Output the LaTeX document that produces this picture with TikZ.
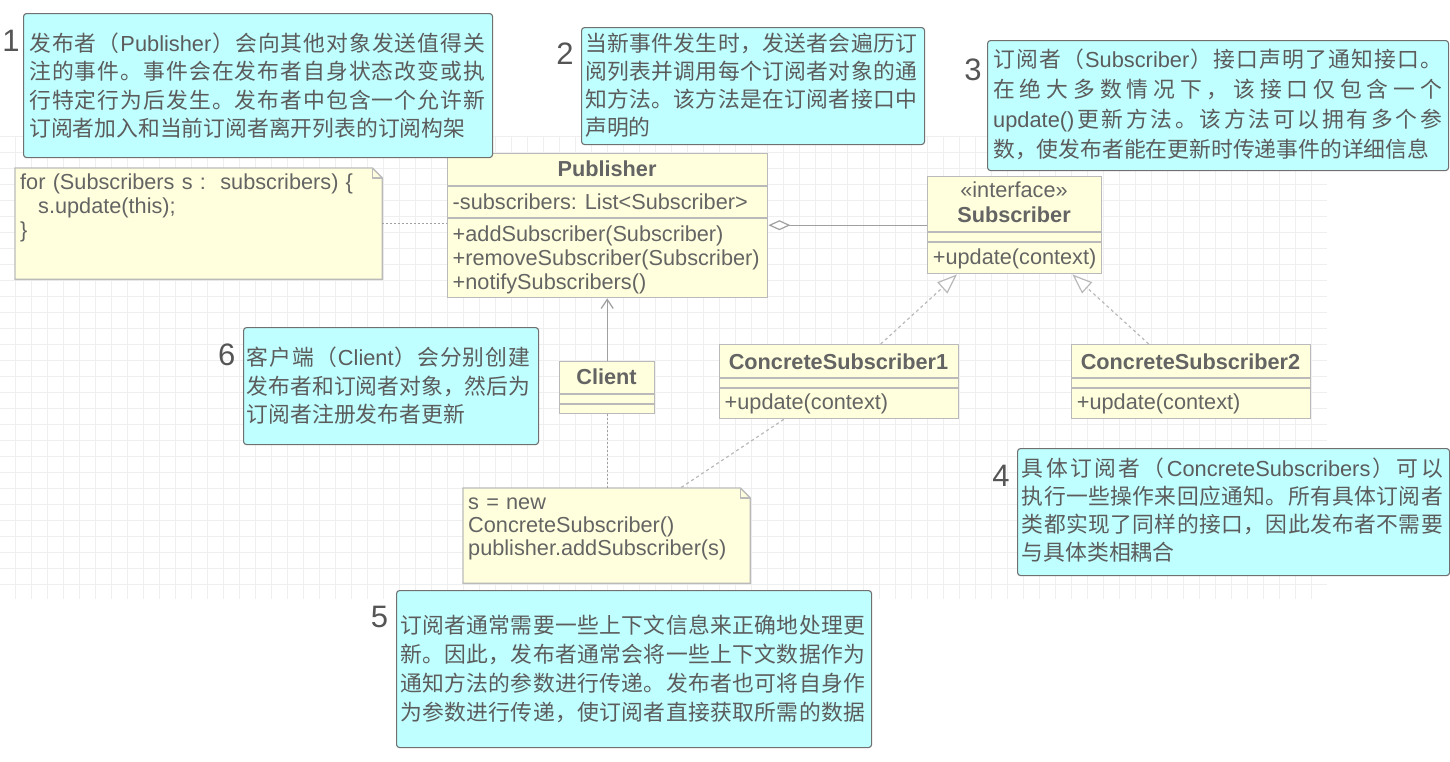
\documentclass[tikz,border=0pt]{standalone}
\usepackage{fontspec}
\setmainfont{Liberation Sans}
\newfontfamily\cjk{Noto Sans CJK SC}
\usetikzlibrary{arrows.meta,calc}
\definecolor{cyanfill}{RGB}{192,255,255}
\definecolor{cyanline}{RGB}{112,112,112}
\definecolor{umlfill}{RGB}{255,255,221}
\definecolor{umlline}{RGB}{186,186,186}
\definecolor{ctxt}{RGB}{92,92,92}
\definecolor{utxt}{RGB}{100,100,100}
\definecolor{ntxt}{RGB}{85,85,85}
\definecolor{gridc}{RGB}{239,239,239}
\definecolor{connc}{RGB}{160,160,160}
\definecolor{realc}{RGB}{185,185,185}
\def\spreadend{SPREADEND}
\def\spreadit#1#2\endsp{#1\spreadA#2\spreadend}
\def\spreadA#1{\ifx\spreadend#1\else\hskip0pt plus 1fil\relax{#1}\expandafter\spreadA\fi}
\newcommand\jl[2]{\makebox[#1][s]{\spreadit#2\endsp}}
\newcommand\engw[1]{{\normalfont #1}}
\begin{document}
\begin{tikzpicture}[x=1pt,y=-1pt,
  cbox/.style={draw=cyanline, fill=cyanfill, rounded corners=3pt, line width=1.1pt, inner sep=0pt, anchor=north west},
  ubox/.style={draw=umlline, fill=umlfill, line width=1.4pt, inner sep=0pt, anchor=north west},
  nbox/.style={draw=none, inner sep=0pt, anchor=north west},
  notepath/.style={draw=umlline, fill=umlfill, line width=1.4pt, line join=miter},
  udiv/.style={draw=umlline, line width=1.4pt},
  ctext/.style={text=ctxt, font=\cjk\fontsize{21.8}{#1}\selectfont, inner sep=0pt, anchor=base west, text width=490pt, align=left},
  utext/.style={text=utxt, font=\fontsize{21.7}{24}\selectfont, inner sep=0pt, anchor=base west},
  umulti/.style={text=utxt, font=\fontsize{21.7}{#1}\selectfont, inner sep=0pt, anchor=base west, text width=420pt, align=left},
  utitle/.style={text=utxt, font=\bfseries\fontsize{21.7}{24}\selectfont, inner sep=0pt, anchor=base},
  numtext/.style={text=ntxt, font=\fontsize{31}{31}\selectfont, inner sep=0pt, anchor=center},
  dotc/.style={draw=connc, line width=1.2pt, dash pattern=on 2pt off 2pt},
  dashc/.style={draw=realc, line width=1.2pt, dash pattern=on 3pt off 3pt},
  solidc/.style={draw=connc, line width=1.3pt},
  gridl/.style={draw=gridc, line width=1pt}
]
\fill[white] (0,0) rectangle (1450,761);
\useasboundingbox (0,0) rectangle (1450,761);
% grid
\foreach \k in {0,...,28} {\draw[gridl] (0,{136.7+16*\k}) -- (1327,{136.7+16*\k});}
\foreach \k in {0,...,81} {\draw[gridl] ({15.8+16*\k},136.7) -- ({15.8+16*\k},599);}

% UML boxes
\node[ubox, minimum width=320pt, minimum height=144pt] (pub) at (447,153) {};
\draw[udiv] ($(pub.north west)+(0,33)$) -- ($(pub.north east)+(0,33)$);
\draw[udiv] ($(pub.north west)+(0,65)$) -- ($(pub.north east)+(0,65)$);
\node[utitle] (pubt) at (607,176) {Publisher};
\node[utext] (puba) at (452.5,209) {-subscribers: List<Subscriber>};
\node[umulti=24] (pubm) at (452.5,241.7) {+addSubscriber(Subscriber)\\+removeSubscriber(Subscriber)\\+notifySubscribers()};

\node[ubox, minimum width=174pt, minimum height=97pt] (sub) at (927,176) {};
\draw[udiv] ($(sub.north west)+(0,56)$) -- ($(sub.north east)+(0,56)$);
\draw[udiv] ($(sub.north west)+(0,66)$) -- ($(sub.north east)+(0,66)$);
\node[utext, anchor=base] (subs) at (1014,197.5) {«interface»};
\node[utitle] (subt) at (1014,222.3) {Subscriber};
\node[utext] (subm) at (932.7,264) {+update(context)};

\node[ubox, minimum width=239pt, minimum height=74pt] (cs1) at (719,344) {};
\draw[udiv] ($(cs1.north west)+(0,34)$) -- ($(cs1.north east)+(0,34)$);
\draw[udiv] ($(cs1.north west)+(0,44)$) -- ($(cs1.north east)+(0,44)$);
\node[utitle] (cs1t) at (838.5,369) {ConcreteSubscriber1};
\node[utext] (cs1m) at (724.5,409.3) {+update(context)};

\node[ubox, minimum width=239pt, minimum height=74pt] (cs2) at (1071,344) {};
\draw[udiv] ($(cs2.north west)+(0,34)$) -- ($(cs2.north east)+(0,34)$);
\draw[udiv] ($(cs2.north west)+(0,44)$) -- ($(cs2.north east)+(0,44)$);
\node[utitle] (cs2t) at (1190.5,369) {ConcreteSubscriber2};
\node[utext] (cs2m) at (1076.7,409.3) {+update(context)};

\node[ubox, minimum width=95pt, minimum height=52pt] (cli) at (559,361) {};
\draw[udiv] ($(cli.north west)+(0,33)$) -- ($(cli.north east)+(0,33)$);
\draw[udiv] ($(cli.north west)+(0,43)$) -- ($(cli.north east)+(0,43)$);
\node[utitle] (clit) at (606.5,384) {Client};

% notes
\node[nbox, minimum width=367pt, minimum height=111pt] (ln) at (15,168) {};
\filldraw[notepath] (ln.north west) -- ($(ln.north east)+(-10,0)$) -- ($(ln.north east)+(0,10)$) -- (ln.south east) -- (ln.south west) -- cycle;
\draw[udiv] ($(ln.north east)+(-10,0)$) -- ($(ln.north east)+(-10,10)$) -- ($(ln.north east)+(0,10)$);
\node[umulti=24.2] (lnt) at (20,189.3) {for (Subscribers s :\ \ subscribers) \{\\\hspace*{18pt}s.update(this);\\\}};

\node[nbox, minimum width=287pt, minimum height=95pt] (cn) at (463,488) {};
\filldraw[notepath] (cn.north west) -- ($(cn.north east)+(-10,0)$) -- ($(cn.north east)+(0,10)$) -- (cn.south east) -- (cn.south west) -- cycle;
\draw[udiv] ($(cn.north east)+(-10,0)$) -- ($(cn.north east)+(-10,10)$) -- ($(cn.north east)+(0,10)$);
\node[umulti=23.3] (cnt) at (468,509.3) {s = new\\ConcreteSubscriber()\\publisher.addSubscriber(s)};

% connectors
\draw[dotc] (ln.east) -- (ln.east -| pub.west);
\draw[solidc, {Diamond[length=22pt,width=10pt,fill=white,line width=1.2pt]}-] (sub.west -| pub.east) -- (sub.west);
\draw[solidc, -{Straight Barb[length=9pt,width=12pt,line width=1.2pt]}] (cli.north) -- (cli.north |- pub.south);
\draw[dotc] (cli.south) -- (cli.south |- cn.north);
\draw[dashc] ($(cs1.south)+(-55.5,0)$) -- ($(cn.north east)+(-70,0)$);
\draw[dashc, -{Triangle[length=20pt,width=15pt,fill=white,line width=1.2pt]}] ($(cs1.north)+(41.5,0)$) -- ($(sub.south west)+(30,0)$);
\draw[dashc, -{Triangle[length=20pt,width=15pt,fill=white,line width=1.2pt]}] ($(cs2.north)+(-42.5,0)$) -- ($(sub.south east)+(-30,0)$);

% callout boxes
\node[cbox, minimum width=469pt, minimum height=144pt] (b1) at (23,13) {};
\node[ctext=28.35] (t1) at (29,51.6) {\jl{456pt}{发布者（{\engw{Publisher}}）会向其他对象发送值得关}\\\jl{456pt}{注的事件。事件会在发布者自身状态改变或执}\\\jl{456pt}{行特定行为后发生。发布者中包含一个允许新}\\订阅者加入和当前订阅者离开列表的订阅构架};
\node[numtext] (n1) at (11,40.8) {1};

\node[cbox, minimum width=343pt, minimum height=117pt] (b2) at (581,27) {};
\node[ctext=28] (t2) at (585,51.6) {\jl{332pt}{当新事件发生时，发送者会遍历订}\\\jl{332pt}{阅列表并调用每个订阅者对象的通}\\\jl{332pt}{知方法。该方法是在订阅者接口中}\\声明的};
\node[numtext] (n2) at (565,54) {2};

\node[cbox, minimum width=461pt, minimum height=130pt] (b3) at (987,40) {};
\node[ctext=30.2] (t3) at (993,67) {\jl{449pt}{订阅者（{\engw{Subscriber}}）接口声明了通知接口。}\\\jl{449pt}{在绝大多数情况下，该接口仅包含一个}\\\jl{449pt}{{\engw{update()}}更新方法。该方法可以拥有多个参}\\数，使发布者能在更新时传递事件的详细信息};
\node[numtext] (n3) at (973,70) {3};

\node[cbox, minimum width=432pt, minimum height=127pt] (b4) at (1017,448) {};
\node[ctext=27.8] (t4) at (1021.7,476.6) {\jl{421pt}{具体订阅者（{\engw{ConcreteSubscribers}}）可以}\\\jl{421pt}{执行一些操作来回应通知。所有具体订阅者}\\\jl{421pt}{类都实现了同样的接口，因此发布者不需要}\\与具体类相耦合};
\node[numtext] (n4) at (1001,476) {4};

\node[cbox, minimum width=475pt, minimum height=157pt] (b5) at (396,590) {};
\node[ctext=28.9] (t5) at (400,633.3) {\jl{465pt}{订阅者通常需要一些上下文信息来正确地处理更}\\\jl{465pt}{新。因此，发布者通常会将一些上下文数据作为}\\\jl{465pt}{通知方法的参数进行传递。发布者也可将自身作}\\\jl{465pt}{为参数进行传递，使订阅者直接获取所需的数据}};
\node[numtext] (n5) at (379.5,616.7) {5};

\node[cbox, minimum width=295pt, minimum height=117pt] (b6) at (243,327) {};
\node[ctext=28.5] (t6) at (246.7,365.6) {\jl{283.3pt}{客户端（{\engw{Client}}）会分别创建}\\\jl{283.3pt}{发布者和订阅者对象，然后为}\\订阅者注册发布者更新};
\node[numtext] (n6) at (226.7,355) {6};
\end{tikzpicture}
\end{document}
